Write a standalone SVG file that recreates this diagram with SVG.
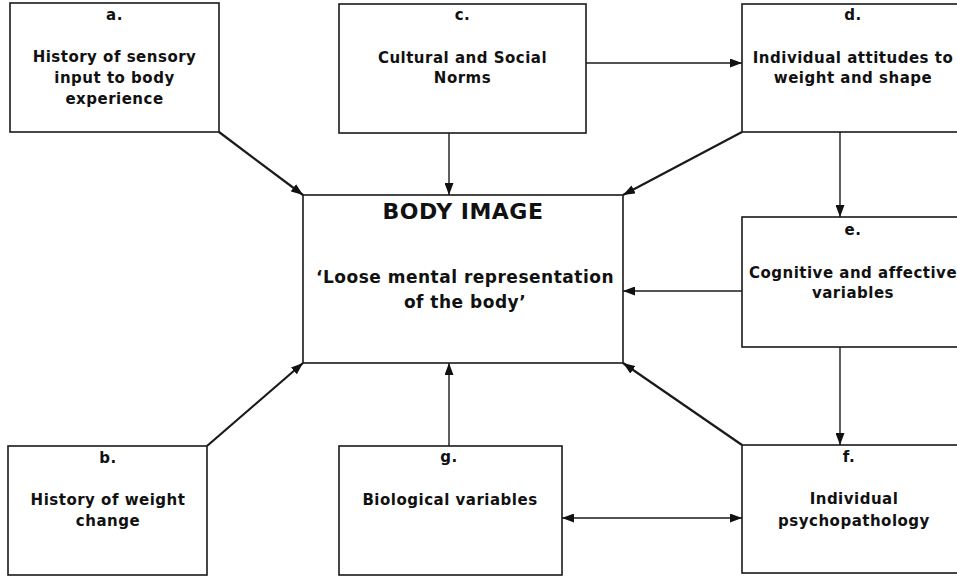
<svg xmlns="http://www.w3.org/2000/svg" width="957" height="580" viewBox="0 0 957 580">
<style>
.box{fill:#fff;stroke:#1a1a1a;stroke-width:1.6}
.t{font-family:"DejaVu Sans","Liberation Sans",sans-serif;font-weight:bold;font-size:15px;letter-spacing:0.5px;text-anchor:middle;fill:#111}
.big{font-size:22px;letter-spacing:0.5px}
.mid{font-size:17px;letter-spacing:0.5px}
.c{fill:none;stroke:#1a1a1a;stroke-width:1.4;marker-end:url(#ah)}
.d{stroke-width:2.2}
</style>
<defs>
<marker id="ah" viewBox="0 0 12 9" refX="12" refY="4.5" markerWidth="12" markerHeight="9" markerUnits="userSpaceOnUse" orient="auto-start-reverse">
<path d="M0,0 L12,4.5 L0,9 z" fill="#111"/>
</marker>
</defs>
<rect width="957" height="580" fill="#fff"/>
<g id="connectors">
<line class="c d" x1="219" y1="132" x2="303" y2="195"/>
<line class="c" x1="449" y1="133" x2="449" y2="195"/>
<line class="c" x1="586" y1="63" x2="742" y2="63"/>
<line class="c d" x1="742" y1="132" x2="623" y2="195"/>
<line class="c" x1="840" y1="132" x2="840" y2="217"/>
<line class="c" x1="742" y1="291" x2="623" y2="291"/>
<line class="c" x1="840" y1="347" x2="840" y2="445"/>
<line class="c d" x1="742" y1="445" x2="623" y2="363"/>
<line class="c" x1="449" y1="446" x2="449" y2="363"/>
<line class="c d" x1="207" y1="446" x2="303" y2="363"/>
<line class="c" x1="562" y1="518" x2="742" y2="518" marker-start="url(#ah)"/>
</g>
<g id="node-a">
<rect class="box" x="10" y="3" width="209" height="129"/>
<text class="t" x="114.5" y="20">a.</text>
<text class="t" x="114.5" y="62">History of sensory</text>
<text class="t" x="114.5" y="83">input to body</text>
<text class="t" x="114.5" y="104">experience</text>
</g>
<g id="node-c">
<rect class="box" x="339" y="4" width="247" height="129"/>
<text class="t" x="462.5" y="20">c.</text>
<text class="t" x="462.5" y="63">Cultural and Social</text>
<text class="t" x="462.5" y="83">Norms</text>
</g>
<g id="node-d">
<rect class="box" x="742" y="4" width="224" height="128"/>
<text class="t" x="853" y="20">d.</text>
<text class="t" x="853" y="63">Individual attitudes to</text>
<text class="t" x="853" y="83">weight and shape</text>
</g>
<g id="node-body">
<rect class="box" x="303" y="195" width="320" height="168"/>
<text class="t big" x="463" y="219">BODY IMAGE</text>
<text class="t mid" x="465" y="283">‘Loose mental representation</text>
<text class="t mid" x="465" y="308">of the body’</text>
</g>
<g id="node-e">
<rect class="box" x="742" y="217" width="224" height="130"/>
<text class="t" x="853" y="235">e.</text>
<text class="t" x="853" y="278">Cognitive and affective</text>
<text class="t" x="853" y="298">variables</text>
</g>
<g id="node-b">
<rect class="box" x="8" y="446" width="199" height="129"/>
<text class="t" x="108" y="463">b.</text>
<text class="t" x="108" y="505">History of weight</text>
<text class="t" x="108" y="526">change</text>
</g>
<g id="node-g">
<rect class="box" x="339" y="446" width="223" height="129"/>
<text class="t" x="449" y="462">g.</text>
<text class="t" x="450" y="505">Biological variables</text>
</g>
<g id="node-f">
<rect class="box" x="742" y="445" width="224" height="128"/>
<text class="t" x="849" y="462">f.</text>
<text class="t" x="854" y="504">Individual</text>
<text class="t" x="854" y="526">psychopathology</text>
</g>
</svg>
